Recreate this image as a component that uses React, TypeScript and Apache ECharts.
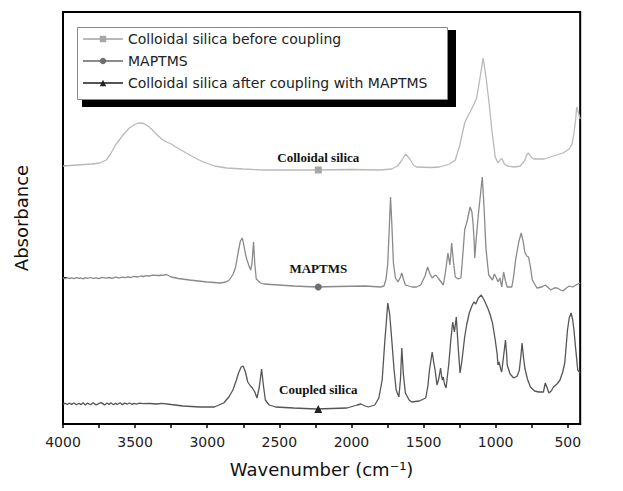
import React, { useEffect, useRef } from "react";
import * as echarts from "echarts";

const seriesNames = [
  "Colloidal silica before coupling",
  "MAPTMS",
  "Colloidal silica after coupling with MAPTMS",
];
const curveLabels = ["Colloidal silica", "MAPTMS", "Coupled silica"];
const xMajorTicks = [4000, 3500, 3000, 2500, 2000, 1500, 1000, 500];
const xMinorTicks = [4000, 3750, 3500, 3250, 3000, 2750, 2500, 2250, 2000, 1750, 1500, 1250, 1000, 750, 500];
const yTicks = [147, 259];
const markerWavenumber = 2230;
const markerValues = [254, 137, 15];

const colloidalSilica: [number, number][] = [
  [4000, 258], [3900, 259], [3800, 260], [3745, 261], [3700, 264], [3670, 270], [3636, 279], [3600, 286],
  [3572, 291], [3540, 296], [3508, 299], [3480, 301], [3463, 301], [3440, 300.5], [3411, 298], [3380, 294],
  [3347, 289], [3315, 285], [3283, 282], [3250, 280], [3218, 277], [3170, 273], [3122, 269], [3070, 265],
  [3026, 262], [2950, 258], [2866, 256], [2750, 255], [2609, 254], [2400, 254], [2243, 254], [2000, 254.5],
  [1800, 254], [1722, 255], [1680, 258], [1650, 264], [1625, 270], [1600, 266], [1570, 259], [1549, 257],
  [1450, 256.5], [1389, 257], [1320, 260], [1280, 264], [1250, 278], [1215, 301], [1190, 309], [1177, 312],
  [1150, 320], [1132, 326], [1110, 345], [1087, 366], [1070, 350], [1048, 324], [1025, 292], [1003, 267],
  [984, 261], [965, 265], [955, 265], [940, 260], [920, 258], [870, 257], [830, 258], [800, 263], [785, 269],
  [772, 271], [755, 267], [734, 265], [663, 265], [600, 268], [534, 271], [490, 275], [470, 280], [457, 291],
  [445, 305], [438, 317], [428, 312], [414, 305],
];

const maptms: [number, number][] = [
  [4000, 146], [3985, 145.4], [3970, 146.3], [3957, 145.5], [3940, 146.2], [3925, 145.3], [3906, 146.4], [3890, 145.6],
  [3875, 146], [3861, 145.2], [3845, 146.3], [3830, 145.6], [3809, 146.5], [3790, 145.7], [3770, 146.2], [3750, 145.3],
  [3730, 146.6], [3700, 145.8], [3680, 146.5], [3660, 145.7], [3636, 146.8], [3610, 146], [3590, 146.9], [3572, 146.3],
  [3550, 147.2], [3530, 146.5], [3508, 147.6], [3480, 147], [3460, 148], [3443, 147.5], [3420, 148.3], [3400, 148],
  [3379, 148.8], [3340, 148.5], [3300, 149], [3283, 149.5], [3250, 147], [3200, 145.5], [3122, 144], [3000, 142],
  [2910, 141], [2870, 142], [2847, 144], [2820, 150], [2803, 157], [2785, 172], [2770, 183], [2757, 186],
  [2745, 178], [2735, 170], [2724, 164], [2710, 158], [2699, 154], [2690, 160], [2679, 182], [2670, 160],
  [2660, 145], [2630, 141], [2608, 140], [2400, 138], [2243, 137], [2100, 137.5], [1903, 138], [1800, 137],
  [1774, 138], [1760, 145], [1748, 161], [1738, 195], [1729, 227], [1720, 200], [1709, 161], [1695, 146],
  [1677, 142], [1660, 147], [1651, 151], [1640, 145], [1626, 139], [1580, 137], [1549, 137], [1520, 139],
  [1490, 148], [1472, 157], [1455, 150], [1440, 146], [1427, 148], [1414, 149], [1400, 146], [1389, 144],
  [1363, 139], [1350, 150], [1331, 171], [1323, 164], [1318, 159], [1312, 168], [1305, 181], [1295, 165],
  [1280, 147], [1260, 145], [1241, 146], [1230, 165], [1215, 194], [1196, 204], [1185, 212], [1177, 217],
  [1165, 212], [1157, 201], [1150, 185], [1145, 166], [1135, 185], [1119, 211], [1105, 230], [1093, 247],
  [1080, 215], [1068, 177], [1055, 158], [1048, 149], [1022, 144], [1009, 150], [995, 146], [984, 142],
  [971, 146], [958, 137], [945, 152], [932, 143], [920, 137], [888, 137], [875, 148], [862, 164], [840, 182],
  [823, 191], [810, 183], [798, 172], [785, 168], [772, 167], [760, 158], [746, 144], [714, 136], [680, 137],
  [656, 139], [640, 137], [618, 134], [595, 136], [573, 136], [550, 134], [534, 133], [510, 136], [489, 138],
  [465, 137], [444, 139], [430, 140], [414, 141],
];

const coupledSilica: [number, number][] = [
  [4000, 20], [3985, 20.6], [3970, 19.5], [3957, 20.8], [3940, 19.6], [3925, 21], [3906, 19.2], [3890, 20.7],
  [3875, 19.4], [3861, 21.2], [3845, 19], [3830, 20.9], [3809, 19.3], [3790, 21.3], [3770, 19], [3750, 20.6],
  [3735, 21.4], [3712, 19.1], [3695, 20.9], [3680, 19.5], [3668, 21.2], [3650, 19.3], [3636, 20.8], [3623, 19.4],
  [3605, 21.3], [3590, 19.4], [3572, 20.9], [3555, 19.8], [3540, 21], [3520, 19.6], [3508, 20.6], [3490, 19.9],
  [3470, 20.8], [3443, 20.3], [3400, 20.5], [3350, 20], [3315, 20.7], [3250, 19.5], [3168, 18], [3050, 17],
  [2950, 17], [2886, 21], [2850, 27], [2822, 34], [2800, 43], [2783, 51], [2765, 57], [2751, 58], [2735, 52],
  [2719, 42], [2700, 38], [2687, 36], [2670, 32], [2655, 26], [2640, 36], [2623, 55], [2610, 38], [2597, 24],
  [2570, 19], [2526, 17], [2400, 16], [2243, 15], [2031, 16], [1960, 19], [1935, 20], [1905, 18], [1883, 17],
  [1838, 19], [1810, 26], [1787, 44], [1770, 80], [1748, 121], [1735, 110], [1722, 87], [1705, 55], [1690, 34],
  [1671, 27], [1660, 45], [1651, 76], [1640, 50], [1626, 31], [1600, 24], [1581, 22], [1530, 23], [1485, 26],
  [1470, 38], [1459, 54], [1440, 72], [1430, 62], [1420, 54], [1407, 39], [1395, 45], [1382, 56], [1375, 48],
  [1369, 44], [1363, 47], [1355, 40], [1344, 36], [1325, 60], [1311, 84], [1298, 102], [1286, 92], [1273, 107],
  [1260, 77], [1247, 51], [1235, 62], [1215, 87], [1200, 100], [1183, 111], [1165, 118], [1151, 122],
  [1138, 120], [1120, 126], [1100, 129], [1080, 124], [1055, 116], [1040, 110], [1022, 101], [1003, 84],
  [990, 70], [984, 59], [977, 62], [965, 55], [958, 52], [945, 68], [932, 84], [925, 72], [920, 59], [900, 50],
  [875, 46], [850, 48], [836, 54], [825, 68], [817, 81], [808, 68], [798, 56], [780, 45], [759, 37], [730, 33],
  [701, 32], [669, 32], [656, 41], [645, 37], [631, 31], [615, 33], [599, 37], [575, 40], [554, 44], [535, 52],
  [521, 61], [510, 80], [502, 94], [490, 106], [477, 111], [467, 105], [457, 94], [445, 75], [431, 54],
  [414, 51],
];

const curves = [colloidalSilica, maptms, coupledSilica];
const lineColors = ["#b9b9b9", "#8a8a8a", "#555555"];
const markerColors = ["#a6a6a6", "#6e6e6e", "#222222"];
const markerSymbols = ["rect", "circle", "triangle"];
const labelDistances = [3, 9, 9];

export default function App() {
  const ref = useRef<HTMLDivElement>(null);
  useEffect(() => {
    if (!ref.current) return;
    const chart = echarts.init(ref.current, null, { renderer: "svg" });
    const sans = "DejaVu Sans";
    chart.setOption({
      animation: false,
      backgroundColor: "#ffffff",
      grid: {
        left: 63,
        right: 2,
        top: 12,
        bottom: 67,
        show: true,
        borderColor: "#000",
        borderWidth: 2,
        backgroundColor: "transparent",
      },
      legend: {
        orient: "vertical",
        left: 82,
        top: 32,
        padding: 0,
        itemWidth: 40,
        itemHeight: 8,
        itemGap: 8,
        selectedMode: false,
        textStyle: { fontFamily: sans, fontSize: 14, color: "#222" },
        data: seriesNames,
      },
      graphic: [
        { type: "rect", shape: { x: 82, y: 30, width: 374, height: 77 }, style: { fill: "#000" }, z: 0 },
        {
          type: "rect",
          shape: { x: 77.5, y: 27.5, width: 370, height: 72 },
          style: { fill: "#fff", stroke: "#8a8a8a", lineWidth: 1 },
          z: 1,
        },
      ],
      xAxis: {
        type: "value",
        min: 414,
        max: 4000,
        inverse: true,
        name: "Wavenumber (cm⁻¹)",
        nameLocation: "middle",
        nameGap: 36,
        nameTextStyle: { fontFamily: sans, fontSize: 18, color: "#111" },
        axisLine: { show: true, lineStyle: { color: "#000", width: 2 } },
        axisTick: {
          show: true,
          inside: false,
          length: 4,
          lineStyle: { color: "#000", width: 1.5 },
          customValues: xMinorTicks,
        },
        axisLabel: {
          customValues: xMajorTicks,
          formatter: (v: number) => String(v),
          fontFamily: sans,
          fontSize: 14,
          color: "#222",
          margin: 11,
        },
        splitLine: { show: false },
      },
      yAxis: {
        type: "value",
        min: 0,
        max: 412,
        name: "Absorbance",
        nameLocation: "middle",
        nameGap: 33,
        nameRotate: 90,
        nameTextStyle: { fontFamily: sans, fontSize: 18, color: "#111" },
        axisLine: { show: true, lineStyle: { color: "#000", width: 2 } },
        axisTick: {
          show: true,
          inside: true,
          length: 4,
          lineStyle: { color: "#000", width: 1 },
          customValues: yTicks,
        },
        axisLabel: { show: false },
        splitLine: { show: false },
      },
      series: curves.map((data, i) => ({
        name: seriesNames[i],
        type: "line",
        data,
        showSymbol: false,
        symbol: markerSymbols[i],
        lineStyle: { color: lineColors[i], width: 1.3 },
        itemStyle: { color: markerColors[i] },
        silent: true,
        z: 2,
        markPoint: {
          symbol: markerSymbols[i],
          symbolSize: i === 2 ? 8 : 7,
          itemStyle: { color: markerColors[i] },
          label: {
            show: true,
            position: "top",
            distance: labelDistances[i],
            formatter: curveLabels[i],
            fontFamily: "Liberation Serif",
            fontWeight: "bold",
            fontSize: 13,
            color: "#111",
          },
          data: [{ coord: [markerWavenumber, markerValues[i]] }],
        },
      })),
    });
    return () => chart.dispose();
  }, []);
  return (
    <div
      ref={ref}
      style={{ position: "fixed", left: 0, top: 0, width: 623, height: 491, background: "#fff" }}
    />
  );
}
